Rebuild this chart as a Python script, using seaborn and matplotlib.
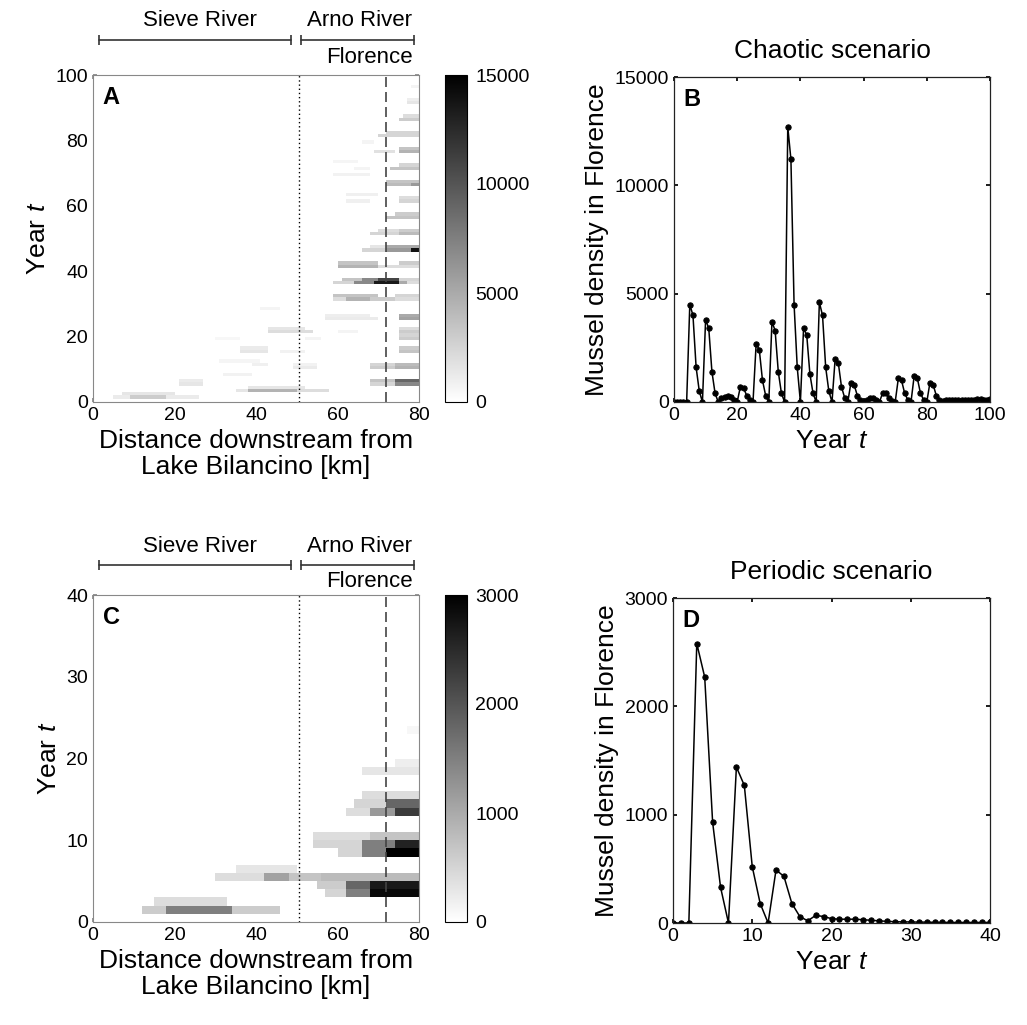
import numpy as np
import pandas as pd
import seaborn as sns
import matplotlib
matplotlib.use("Agg")
from matplotlib import pyplot as plt
from matplotlib.colors import LinearSegmentedColormap

# ---- data ----
# chaotic scenario, density in Florence, years 0..100
chaotic_years = list(range(0, 101))
chaotic_density = [
    0, 0, 0, 0, 0, 4500, 4000, 1600, 500, 0,
    3800, 3400, 1400, 400, 0, 200, 250, 300, 250, 100,
    0, 700, 650, 300, 100, 0, 2700, 2400, 1000, 300,
    0, 3700, 3300, 1400, 400, 0, 12700, 11200, 4500, 1600,
    0, 3400, 3100, 1300, 400, 0, 4600, 4000, 1600, 500,
    0, 2000, 1800, 700, 200, 0, 900, 800, 300, 100,
    0, 100, 200, 200, 100, 0, 400, 400, 200, 50,
    0, 1100, 1000, 400, 100, 0, 1200, 1100, 400, 100,
    0, 900, 800, 300, 100, 50, 100, 100, 100, 100,
    100, 100, 100, 100, 100, 100, 150, 150, 100, 100, 150,
]

# periodic scenario, density in Florence, years 0..40
periodic_years = list(range(0, 41))
periodic_density = [
    0, 0, 0, 2580, 2270, 930, 330, 0, 1440, 1270,
    520, 180, 0, 490, 430, 180, 60, 20, 70, 60,
    40, 35, 35, 35, 30, 25, 20, 15, 12, 10,
    10, 8, 8, 6, 6, 5, 5, 5, 5, 5, 5,
]

# space-time density streaks: (year, km from, km to, density)
chaotic_streaks = [
    (1, 5, 9, 1200), (1, 9, 18, 3000), (1, 18, 26, 1200), (2, 7, 20, 1500),
    (3, 35, 38, 1500), (3, 38, 50, 4500), (3, 50, 58, 2000), (4, 38, 52, 1500),
    (5, 21, 27, 1500), (6, 21, 27, 1200), (5, 68, 74, 2500), (5, 74, 80, 7000),
    (6, 68, 74, 3500), (6, 74, 80, 9000), (8, 32, 39, 800),
    (10, 49, 55, 1200), (10, 68, 74, 3000), (10, 74, 80, 4500),
    (11, 39, 43, 900), (11, 49, 55, 800), (11, 68, 74, 2500), (11, 74, 80, 4000),
    (12, 31, 41, 600), (15, 36, 43, 1500), (16, 36, 43, 1200), (15, 46, 52, 800),
    (15, 75, 80, 3500), (16, 75, 80, 3000),
    (19, 30, 36, 500), (19, 52, 56, 700), (19, 75, 80, 3000), (20, 75, 80, 2500),
    (21, 43, 54, 2000), (22, 43, 52, 1500), (21, 60, 65, 700),
    (21, 75, 80, 3000), (22, 75, 80, 2000),
    (25, 57, 70, 1200), (26, 57, 68, 1000), (25, 75, 80, 5500), (26, 75, 80, 5000),
    (28, 41, 46, 700),
    (31, 59, 62, 2000), (31, 62, 68, 4500), (31, 68, 74, 3000), (31, 74, 80, 2000),
    (32, 59, 70, 3500), (32, 74, 80, 2500),
    (36, 59, 64, 2500), (36, 64, 69, 7000), (36, 69, 75, 13500), (36, 75, 77, 5000),
    (36, 77, 80, 2000), (37, 61, 66, 3500), (37, 66, 70, 7000), (37, 70, 75, 11000),
    (37, 75, 80, 2500),
    (41, 60, 70, 4500), (41, 70, 80, 2000), (42, 60, 70, 3500), (42, 75, 80, 3000),
    (46, 66, 72, 2500), (46, 72, 78, 6000), (46, 78, 80, 14000),
    (47, 68, 72, 1500), (47, 72, 80, 5000),
    (51, 68, 75, 2500), (51, 75, 80, 4000), (52, 70, 75, 2000), (52, 75, 80, 3000),
    (56, 72, 80, 3500), (57, 74, 80, 3000),
    (61, 62, 68, 900), (61, 75, 80, 2500), (62, 75, 80, 2000), (63, 62, 70, 900),
    (66, 72, 78, 4000), (66, 78, 80, 6000), (67, 72, 80, 3500), (69, 59, 68, 800),
    (71, 64, 68, 700), (71, 73, 80, 3500), (72, 75, 80, 2500), (73, 59, 65, 600),
    (76, 69, 74, 1800), (76, 75, 80, 4500), (77, 75, 80, 3500), (79, 66, 69, 700),
    (81, 70, 80, 2500), (82, 72, 80, 2500), (86, 75, 80, 3000), (87, 76, 80, 2000),
    (91, 77, 80, 1500), (92, 77, 80, 1000), (96, 78, 80, 700),
]

periodic_streaks = [
    (1, 12, 18, 600), (1, 18, 34, 1500), (1, 34, 46, 600), (2, 15, 33, 400),
    (3, 57, 62, 500), (3, 62, 68, 1500), (3, 68, 80, 2900),
    (4, 55, 62, 600), (4, 62, 68, 1800), (4, 68, 80, 2700),
    (5, 30, 42, 400), (5, 42, 48, 1100), (5, 48, 56, 700), (5, 56, 80, 800),
    (6, 35, 50, 300),
    (8, 60, 66, 500), (8, 66, 72, 1500), (8, 72, 80, 3000),
    (9, 54, 66, 500), (9, 66, 74, 1500), (9, 74, 80, 2600),
    (10, 54, 68, 400), (10, 68, 80, 700),
    (13, 62, 68, 400), (13, 68, 74, 1200), (13, 74, 80, 2300),
    (14, 64, 72, 500), (14, 72, 80, 1800), (15, 66, 80, 400),
    (18, 66, 80, 300), (19, 74, 80, 200), (23, 77, 80, 100),
]

confluence_km = 50.6
florence_km = 72.0


def streak_grid(streaks, n_years, n_km=80):
    grid = np.zeros((n_years, n_km))
    for year, k0, k1, val in streaks:
        grid[year, k0:k1] = val
    return grid


sns.set_theme(style="ticks")
plt.rcParams["font.family"] = ["Liberation Sans", "DejaVu Sans"]
plt.rcParams["mathtext.fontset"] = "custom"
plt.rcParams["mathtext.it"] = "Liberation Sans:italic"
plt.rcParams["mathtext.rm"] = "Liberation Sans"
for key in ["text.color", "axes.labelcolor", "xtick.color", "ytick.color"]:
    plt.rcParams[key] = "black"

gray_cmap = LinearSegmentedColormap.from_list("wb", ["white", "black"])

W, H = 1027, 1025
fig = plt.figure(figsize=(W / 100, H / 100), dpi=100)


def rect(left, top, right, bottom):
    return [left / W, 1 - bottom / H, (right - left) / W, (bottom - top) / H]


LABEL_FS = 19
TICK_FS = 14


def heat_panel(ax_rect, cb_rect, grid, vmax, ystep, letter, bar_y, text_y, flor_y):
    ax = fig.add_axes(ax_rect)
    cax = fig.add_axes(cb_rect)
    n_years = grid.shape[0]
    sns.heatmap(grid, ax=ax, cbar_ax=cax, cmap=gray_cmap, vmin=0, vmax=vmax,
                xticklabels=False, yticklabels=False,
                cbar_kws={"ticks": np.arange(0, vmax + 1, vmax / 3)}, rasterized=True)
    ax.set_ylim(0, n_years)
    ax.set_xlim(0, 80)
    for sp in ax.spines.values():
        sp.set_visible(True)
        sp.set_color("#888888")
        sp.set_linewidth(0.8)
    ax.set_xticks(range(0, 81, 20))
    ax.set_xticklabels([str(v) for v in range(0, 81, 20)])
    yt = list(range(0, n_years + 1, ystep))
    ax.set_yticks(yt)
    ax.set_yticklabels([str(v) for v in yt], rotation=0)
    ax.tick_params(direction="in", length=3, color="#888888", labelsize=TICK_FS,
                   labelcolor="black", top=True, right=True, bottom=True, left=True)
    ax.set_xlabel("Distance downstream from\nLake Bilancino [km]", fontsize=LABEL_FS,
                  linespacing=1.1)
    ax.set_ylabel("Year $t$", fontsize=LABEL_FS)
    ax.axvline(confluence_km, color="black", ls=(0, (1, 2)), lw=1.0)
    ax.axvline(florence_km, color="#444444", ls=(0, (6, 3)), lw=1.2)
    ax.text(0.03, 0.965, letter, transform=ax.transAxes, fontsize=17,
            fontweight="bold", ha="left", va="top")

    tr = ax.get_xaxis_transform()
    for x0, x1 in [(1.5, 48.6), (51.1, 78.7)]:
        ax.plot([x0, x1], [bar_y, bar_y], color="#333333", lw=1.2, transform=tr,
                clip_on=False, marker="|", ms=7, mew=1.2)
    ax.text(26.2, text_y, "Sieve River", transform=tr, ha="center", va="center",
            fontsize=16)
    ax.text(78.3, text_y, "Arno River", transform=tr, ha="right", va="center",
            fontsize=16)
    ax.text(78.5, flor_y, "Florence", transform=tr, ha="right", va="center",
            fontsize=16)

    cb = ax.collections[0].colorbar
    cb.outline.set_linewidth(0.8)
    cb.outline.set_edgecolor("black")
    cb.ax.tick_params(length=0, labelsize=TICK_FS, pad=6, labelcolor="black")
    cb.ax.set_yticklabels([str(int(v)) for v in np.arange(0, vmax + 1, vmax / 3)])
    return ax


def line_panel(ax_rect, years, dens, ymax, xstep, title, letter):
    ax = fig.add_axes(ax_rect)
    df = pd.DataFrame({"year": years, "density": dens})
    sns.lineplot(data=df, x="year", y="density", ax=ax, color="black", lw=1.1,
                 marker="o", ms=3.8, mec="black", mfc="black")
    ax.set_xlim(0, years[-1])
    ax.set_ylim(0, ymax)
    ax.set_xticks(range(0, years[-1] + 1, xstep))
    ax.set_yticks(range(0, ymax + 1, ymax // 3))
    ax.tick_params(direction="in", length=3, labelsize=TICK_FS,
                   top=True, right=True)
    for sp in ax.spines.values():
        sp.set_color("#222222")
        sp.set_linewidth(0.9)
    ax.set_xlabel("Year $t$", fontsize=LABEL_FS)
    ax.set_ylabel("Mussel density in Florence", fontsize=LABEL_FS)
    ax.set_title(title, fontsize=LABEL_FS, pad=14)
    ax.text(0.03, 0.965, letter, transform=ax.transAxes, fontsize=17,
            fontweight="bold", ha="left", va="top")
    return ax


heat_panel(rect(93, 75, 419, 402), rect(445, 75, 467, 402),
           streak_grid(chaotic_streaks, 100), 15000, 20, "A",
           1.107, 1.168, 1.052)
line_panel(rect(674, 77, 990, 402), chaotic_years, chaotic_density, 15000, 20,
           "Chaotic scenario", "B")
heat_panel(rect(93, 595, 419, 922), rect(445, 595, 467, 922),
           streak_grid(periodic_streaks, 40), 3000, 10, "C",
           1.092, 1.147, 1.040)
line_panel(rect(673, 598, 990, 923), periodic_years, periodic_density, 3000, 10,
           "Periodic scenario", "D")

fig.savefig("out.png", dpi=100, facecolor="white")
